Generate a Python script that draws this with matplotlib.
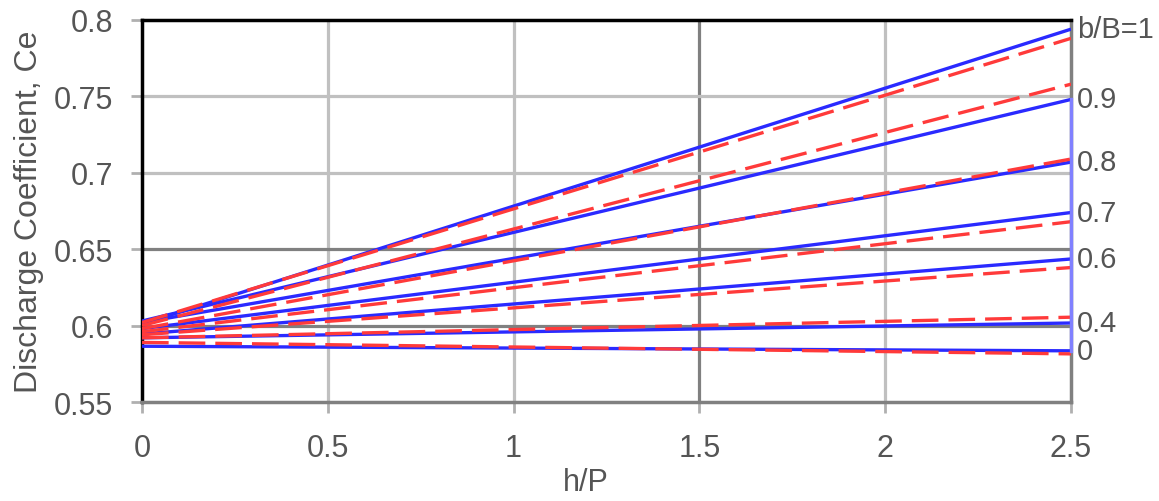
import matplotlib
matplotlib.use("Agg")
import matplotlib.pyplot as plt

# ---- data ----
hp = [0.0, 2.5]                      # h/P range of every line
bB_labels = ["b/B=1", "0.9", "0.8", "0.7", "0.6", "0.4", "0"]

blue_start = [0.601, 0.603, 0.602, 0.598, 0.5945, 0.592, 0.5865]
blue_end   = [0.794, 0.748, 0.707, 0.674, 0.6436, 0.6017, 0.5835]
red_start  = [0.602, 0.600, 0.598, 0.596, 0.594, 0.592, 0.589]
red_end    = [0.788, 0.758, 0.709, 0.668, 0.638, 0.6055, 0.5815]

xticks = [0, 0.5, 1, 1.5, 2, 2.5]
xtick_labels = ["0", "0.5", "1", "1.5", "2", "2.5"]
yticks = [0.55, 0.6, 0.65, 0.7, 0.75, 0.8]
ytick_labels = ["0.55", "0.6", "0.65", "0.7", "0.75", "0.8"]

plt.rcParams['font.family'] = ['Liberation Sans', 'DejaVu Sans']
txt_col = '#555555'

fig = plt.figure(figsize=(11.59, 5.02), dpi=100)
ax = fig.add_axes([0.1225, 0.1972, 0.9241 - 0.1225, 0.9582 - 0.1972])
ax.set_xlim(0, 2.5)
ax.set_ylim(0.55, 0.8)

# gridlines
light, dark = '#c0c0c0', '#808080'
for x in xticks[1:-1]:
    ax.axvline(x, color=dark if x == 1.5 else light, lw=2.3, zorder=1)
for y in yticks[1:-1]:
    ax.axhline(y, color=dark if y in (0.6, 0.65) else light, lw=2.3, zorder=1)

# lines
for bs, be in zip(blue_start, blue_end):
    ax.plot(hp, [bs, be], color='#2a2aff', lw=2.4, solid_capstyle='butt', zorder=3)
for rs, re_ in zip(red_start, red_end):
    ax.plot(hp, [rs, re_], color='#ff3a3a', lw=2.4, dashes=(8, 3), zorder=4)

# right edge light-blue connector
ax.plot([2.5, 2.5], [blue_end[1], blue_end[-1]], color='#8080ff', lw=2.4,
        clip_on=False, zorder=5)

# right-side labels
for lab, yv in zip(bB_labels, blue_end):
    ax.annotate(lab, xy=(2.5, yv), xytext=(4, 0), textcoords='offset points',
                ha='left', va='center', fontsize=21, color=txt_col,
                annotation_clip=False)

# spines
ax.spines['top'].set_color('black')
ax.spines['left'].set_color('black')
ax.spines['bottom'].set_color(dark)
ax.spines['right'].set_color(dark)
for s in ax.spines.values():
    s.set_linewidth(2.5)

ax.set_xticks(xticks)
ax.set_xticklabels(xtick_labels)
ax.set_yticks(yticks)
ax.set_yticklabels(ytick_labels)
ax.tick_params(axis='both', colors='#b0b0b0', length=8, width=2,
               labelsize=22, labelcolor=txt_col)
ax.tick_params(axis='y', pad=13)
ax.tick_params(axis='x', pad=14)

ax.set_xlabel("h/P", fontsize=22, color=txt_col)
ax.xaxis.set_label_coords(0.478, -0.17)
ax.set_ylabel("Discharge Coefficient, Ce", fontsize=23, color=txt_col)
ax.yaxis.set_label_coords(-0.105, 0.5)

fig.savefig("out.png", dpi=100)
